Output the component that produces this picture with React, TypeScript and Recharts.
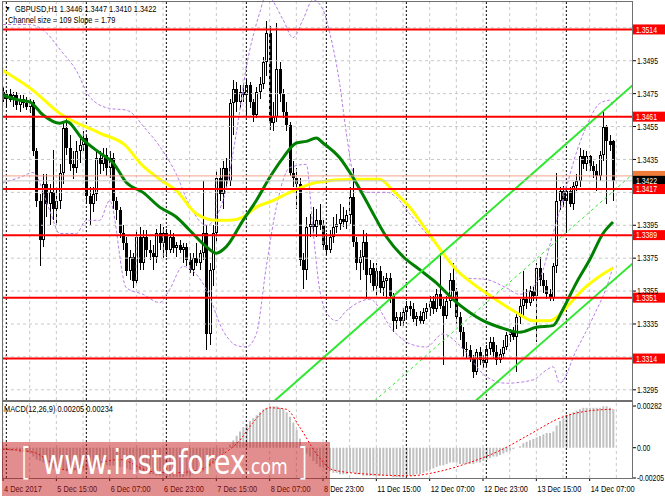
import { Bar, ComposedChart, Line, ReferenceLine, XAxis, YAxis } from 'recharts'

// GBPUSD H1, 4 Dec 23:00 .. 14 Dec 07:00 — [open, high, low, close]
const ohlc: [number, number, number, number][] = [
  [1.3476, 1.3479, 1.3470, 1.3472], [1.3472, 1.3477, 1.3466, 1.3475], [1.3475, 1.3478, 1.3470, 1.3471],
  [1.3471, 1.3476, 1.3467, 1.3474], [1.3474, 1.3476, 1.3465, 1.3468], [1.3468, 1.3474, 1.3464, 1.3472],
  [1.3472, 1.3474, 1.3466, 1.3469], [1.3469, 1.3473, 1.3465, 1.3467], [1.3467, 1.3472, 1.3463, 1.3470],
  [1.3470, 1.3471, 1.3437, 1.3440], [1.3440, 1.3442, 1.3406, 1.3410], [1.3410, 1.3414, 1.3370, 1.3386],
  [1.3386, 1.3426, 1.3382, 1.3420], [1.3420, 1.3426, 1.3400, 1.3408], [1.3408, 1.3420, 1.3395, 1.3415],
  [1.3415, 1.3441, 1.3398, 1.3405], [1.3405, 1.3418, 1.3395, 1.3410], [1.3410, 1.3432, 1.3405, 1.3427],
  [1.3427, 1.3458, 1.3420, 1.3454], [1.3454, 1.3460, 1.3438, 1.3442], [1.3442, 1.3450, 1.3428, 1.3432],
  [1.3432, 1.3440, 1.3423, 1.3430], [1.3430, 1.3446, 1.3427, 1.3440], [1.3440, 1.3450, 1.3433, 1.3444],
  [1.3444, 1.3452, 1.3440, 1.3448], [1.3448, 1.3450, 1.3408, 1.3413], [1.3413, 1.3418, 1.3395, 1.3408],
  [1.3408, 1.3418, 1.3403, 1.3414], [1.3414, 1.3440, 1.3410, 1.3436], [1.3436, 1.3440, 1.3426, 1.3432],
  [1.3432, 1.3442, 1.3428, 1.3438], [1.3438, 1.3442, 1.3425, 1.3430], [1.3430, 1.3440, 1.3424, 1.3436],
  [1.3436, 1.3439, 1.3405, 1.3410], [1.3410, 1.3412, 1.3398, 1.3404], [1.3404, 1.3406, 1.3387, 1.3390],
  [1.3390, 1.3395, 1.3380, 1.3384], [1.3384, 1.3388, 1.3364, 1.3367], [1.3367, 1.3380, 1.3362, 1.3376],
  [1.3376, 1.3378, 1.3357, 1.3361], [1.3361, 1.3392, 1.3359, 1.3388], [1.3388, 1.3394, 1.3368, 1.3372],
  [1.3372, 1.3392, 1.3368, 1.3388], [1.3388, 1.3392, 1.3376, 1.3380], [1.3380, 1.3386, 1.3374, 1.3378],
  [1.3378, 1.3383, 1.3368, 1.3376], [1.3376, 1.3393, 1.3372, 1.3390], [1.3390, 1.3396, 1.3380, 1.3384],
  [1.3384, 1.3394, 1.3375, 1.3390], [1.3390, 1.3393, 1.3376, 1.3380], [1.3380, 1.3392, 1.3378, 1.3388],
  [1.3388, 1.3390, 1.3378, 1.3381], [1.3381, 1.3385, 1.3376, 1.3383], [1.3383, 1.3386, 1.3378, 1.3380],
  [1.3380, 1.3384, 1.3372, 1.3382], [1.3382, 1.3384, 1.3370, 1.3374], [1.3374, 1.3378, 1.3366, 1.3368],
  [1.3368, 1.3378, 1.3364, 1.3375], [1.3375, 1.3384, 1.3370, 1.3372], [1.3372, 1.3380, 1.3368, 1.3378],
  [1.3378, 1.3422, 1.3374, 1.3390], [1.3390, 1.3395, 1.3319, 1.3329], [1.3329, 1.3372, 1.3322, 1.3368],
  [1.3368, 1.3395, 1.3358, 1.3390], [1.3390, 1.3428, 1.3385, 1.3424], [1.3424, 1.3430, 1.3410, 1.3414],
  [1.3414, 1.3434, 1.3405, 1.3430], [1.3430, 1.3436, 1.3418, 1.3422], [1.3422, 1.3472, 1.3419, 1.3469],
  [1.3469, 1.3483, 1.3450, 1.3478], [1.3478, 1.3482, 1.3464, 1.3470], [1.3470, 1.3480, 1.3466, 1.3476],
  [1.3476, 1.3481, 1.3470, 1.3474], [1.3474, 1.3484, 1.3462, 1.3480], [1.3480, 1.3482, 1.3466, 1.3470],
  [1.3470, 1.3472, 1.3458, 1.3462], [1.3462, 1.3479, 1.3460, 1.3476], [1.3476, 1.3485, 1.3472, 1.3481],
  [1.3481, 1.3497, 1.3478, 1.3494], [1.3494, 1.3519, 1.3486, 1.3512], [1.3512, 1.3516, 1.3453, 1.3457],
  [1.3457, 1.3470, 1.3452, 1.3461], [1.3461, 1.3518, 1.3458, 1.3490], [1.3490, 1.3494, 1.3470, 1.3475],
  [1.3475, 1.3478, 1.3460, 1.3464], [1.3464, 1.3470, 1.3452, 1.3456], [1.3456, 1.3458, 1.3425, 1.3427],
  [1.3427, 1.3434, 1.3418, 1.3424], [1.3424, 1.3430, 1.3405, 1.3420], [1.3420, 1.3424, 1.3370, 1.3374],
  [1.3374, 1.3378, 1.3356, 1.3368], [1.3368, 1.3400, 1.3362, 1.3394], [1.3394, 1.3402, 1.3388, 1.3396],
  [1.3396, 1.3406, 1.3390, 1.3394], [1.3394, 1.3405, 1.3388, 1.3398], [1.3398, 1.3408, 1.3392, 1.3395],
  [1.3395, 1.3398, 1.3380, 1.3383], [1.3383, 1.3390, 1.3377, 1.3380], [1.3380, 1.3392, 1.3378, 1.3388],
  [1.3388, 1.3400, 1.3384, 1.3394], [1.3394, 1.3402, 1.3390, 1.3396], [1.3396, 1.3408, 1.3392, 1.3399],
  [1.3399, 1.3406, 1.3394, 1.3397], [1.3397, 1.3404, 1.3393, 1.3401], [1.3401, 1.3418, 1.3396, 1.3412],
  [1.3412, 1.3430, 1.3382, 1.3385], [1.3385, 1.3388, 1.3368, 1.3372], [1.3372, 1.3380, 1.3362, 1.3376],
  [1.3376, 1.3392, 1.3368, 1.3385], [1.3385, 1.3390, 1.3350, 1.3365], [1.3365, 1.3374, 1.3360, 1.3369],
  [1.3369, 1.3372, 1.3355, 1.3358], [1.3358, 1.3372, 1.3352, 1.3367], [1.3367, 1.3370, 1.3354, 1.3357],
  [1.3357, 1.3364, 1.3352, 1.3361], [1.3361, 1.3366, 1.3350, 1.3363], [1.3363, 1.3366, 1.3348, 1.3352],
  [1.3352, 1.3354, 1.3330, 1.3337], [1.3337, 1.3342, 1.3332, 1.3339], [1.3339, 1.3342, 1.3334, 1.3337],
  [1.3337, 1.3345, 1.3334, 1.3342], [1.3342, 1.3349, 1.3338, 1.3346], [1.3346, 1.3349, 1.3340, 1.3344],
  [1.3344, 1.3348, 1.3336, 1.3338], [1.3338, 1.3342, 1.3334, 1.3340], [1.3340, 1.3343, 1.3335, 1.3337],
  [1.3337, 1.3345, 1.3335, 1.3342], [1.3342, 1.3348, 1.3338, 1.3345], [1.3345, 1.3352, 1.3340, 1.3349],
  [1.3349, 1.3352, 1.3341, 1.3344], [1.3344, 1.3356, 1.3342, 1.3353], [1.3353, 1.3378, 1.3344, 1.3346],
  [1.3346, 1.3350, 1.3310, 1.3340], [1.3340, 1.3352, 1.3338, 1.3349], [1.3349, 1.3366, 1.3345, 1.3362],
  [1.3362, 1.3372, 1.3350, 1.3355], [1.3355, 1.3357, 1.3335, 1.3339], [1.3339, 1.3342, 1.3325, 1.3330],
  [1.3330, 1.3333, 1.3315, 1.3320], [1.3320, 1.3324, 1.3314, 1.3319], [1.3319, 1.3322, 1.3312, 1.3314],
  [1.3314, 1.3316, 1.3302, 1.3306], [1.3306, 1.3320, 1.3304, 1.3318], [1.3318, 1.3321, 1.3310, 1.3313],
  [1.3313, 1.3316, 1.3308, 1.3311], [1.3311, 1.3322, 1.3309, 1.3320], [1.3320, 1.3327, 1.3316, 1.3324],
  [1.3324, 1.3327, 1.3314, 1.3318], [1.3318, 1.3322, 1.3310, 1.3313], [1.3313, 1.3320, 1.3311, 1.3317],
  [1.3317, 1.3325, 1.3314, 1.3321], [1.3321, 1.3330, 1.3319, 1.3328], [1.3328, 1.3332, 1.3324, 1.3330],
  [1.3330, 1.3333, 1.3325, 1.3327], [1.3327, 1.3342, 1.3306, 1.3339], [1.3339, 1.3350, 1.3335, 1.3346],
  [1.3346, 1.3367, 1.3340, 1.3350], [1.3350, 1.3356, 1.3344, 1.3348], [1.3348, 1.3358, 1.3346, 1.3355],
  [1.3355, 1.3358, 1.3349, 1.3352], [1.3352, 1.3372, 1.3324, 1.3369], [1.3369, 1.3376, 1.3358, 1.3362],
  [1.3362, 1.3366, 1.3354, 1.3358], [1.3358, 1.3362, 1.3350, 1.3353], [1.3353, 1.3356, 1.3349, 1.3351],
  [1.3351, 1.3372, 1.3349, 1.3370], [1.3370, 1.3427, 1.3366, 1.3410], [1.3410, 1.3418, 1.3404, 1.3416],
  [1.3416, 1.3419, 1.3406, 1.3410], [1.3410, 1.3419, 1.3390, 1.3416], [1.3416, 1.3418, 1.3406, 1.3408],
  [1.3408, 1.3421, 1.3404, 1.3419], [1.3419, 1.3426, 1.3416, 1.3422], [1.3422, 1.3442, 1.3418, 1.3437],
  [1.3437, 1.3441, 1.3429, 1.3432], [1.3432, 1.3440, 1.3428, 1.3437], [1.3437, 1.3438, 1.3428, 1.3431],
  [1.3431, 1.3434, 1.3424, 1.3428], [1.3428, 1.3432, 1.3416, 1.3425], [1.3425, 1.3440, 1.3422, 1.3438],
  [1.3438, 1.3465, 1.3434, 1.3455], [1.3455, 1.3456, 1.3408, 1.3446], [1.3446, 1.3450, 1.3440, 1.3444],
  [1.3446, 1.3447, 1.3410, 1.3422],
]

// moving averages / bands: [bar, price]
const yellowMa: [number, number][] = [
  [0, 1.3489], [9, 1.3477], [17, 1.3463], [29, 1.3451], [37, 1.3443], [41, 1.3433], [47, 1.3423],
  [52, 1.3416], [58, 1.3402], [64, 1.3398], [68, 1.3398], [72, 1.3400], [76, 1.3406], [81, 1.3410],
  [86, 1.3415], [94, 1.3421], [105, 1.3423], [113, 1.3423], [117, 1.3416], [122, 1.3406], [127, 1.3392],
  [132, 1.3378], [136, 1.3368], [140, 1.3361], [147, 1.3351], [154, 1.3342], [159, 1.3337], [164, 1.3337],
  [166, 1.3339], [169, 1.3345], [174, 1.3356], [179, 1.3364], [183, 1.3369],
]
const greenMa: [number, number][] = [
  [0, 1.3474], [5, 1.3471], [8, 1.3470], [12, 1.3462], [17, 1.3457], [19, 1.3458], [24, 1.3447],
  [29, 1.3439], [33, 1.3433], [37, 1.3421], [42, 1.3415], [47, 1.3406], [52, 1.3400], [56, 1.3392],
  [61, 1.3382], [64, 1.3378], [67, 1.3382], [72, 1.3398], [76, 1.3410], [80, 1.3424], [84, 1.3436],
  [88, 1.3445], [91, 1.3446], [94, 1.3448], [96, 1.3445], [101, 1.3436], [105, 1.3424], [110, 1.3406],
  [115, 1.3388], [120, 1.3376], [125, 1.3368], [130, 1.3360], [135, 1.3350], [140, 1.3342], [144, 1.3337],
  [149, 1.3333], [155, 1.3330], [160, 1.3333], [165, 1.3334], [168, 1.3344], [172, 1.3360], [176, 1.3374],
  [180, 1.3390], [183, 1.3397],
]
const bandUpper: [number, number][] = [
  [0, 1.3517], [8, 1.3517], [13, 1.3512], [17, 1.3502], [22, 1.3489], [26, 1.3473], [32, 1.3466],
  [37, 1.3465], [43, 1.3453], [47, 1.3443], [52, 1.3426], [56, 1.3407], [61, 1.3395], [66, 1.3410],
  [70, 1.3451], [73, 1.3491], [77, 1.3524], [79, 1.3535], [84, 1.3520], [87, 1.3509], [90, 1.3520],
  [93, 1.3532], [96, 1.3526], [98, 1.3512], [101, 1.3481], [103, 1.3451], [105, 1.3427], [109, 1.3415],
  [115, 1.3415], [118, 1.3412], [122, 1.3402], [127, 1.3390], [132, 1.3378], [139, 1.3363], [145, 1.3362],
  [151, 1.3357], [155, 1.3353], [161, 1.3363], [165, 1.3390], [169, 1.3418], [172, 1.3439], [175, 1.3455],
  [179, 1.3469], [182, 1.3471], [183, 1.3467],
]
const bandLower: [number, number][] = [
  [0, 1.3421], [5, 1.3424], [9, 1.3427], [14, 1.3404], [17, 1.3390], [22, 1.3390], [25, 1.3398],
  [29, 1.3398], [32, 1.3410], [37, 1.3357], [42, 1.3353], [47, 1.3348], [50, 1.3356], [54, 1.3370],
  [61, 1.3356], [66, 1.3331], [70, 1.3322], [73, 1.3321], [76, 1.3329], [79, 1.3370], [82, 1.3406],
  [86, 1.3430], [91, 1.3432], [93, 1.3392], [95, 1.3356], [97, 1.3342], [100, 1.3337], [103, 1.3343],
  [110, 1.3350], [117, 1.3331], [122, 1.3323], [127, 1.3321], [132, 1.3329], [137, 1.3322], [145, 1.3303],
  [151, 1.3299], [159, 1.3301], [163, 1.3307], [165, 1.3309], [167, 1.3299], [172, 1.3319], [177, 1.3339],
  [182, 1.3363], [183, 1.3370],
]

// regression channel (109 bars), extended to the right edge
const chanUpper: [number, number][] = [[75, 1.32768], [189, 1.34803]]
const chanMid: [number, number][] = [[75, 1.32234], [189, 1.34262]]
const chanLower: [number, number][] = [[75, 1.31699], [189, 1.33720]]

const levels = [1.3514, 1.3461, 1.3417, 1.3389, 1.3351, 1.3314]
const askPrice = 1.3425
const bidPrice = 1.3422

const gridPrices = [1.3295, 1.3315, 1.3335, 1.3355, 1.3375, 1.3395, 1.3415, 1.3435, 1.3455, 1.3475, 1.3495, 1.3515]
const priceTicks = [1.3295, 1.3335, 1.3355, 1.3375, 1.3395, 1.3435, 1.3455, 1.3475, 1.3495]
const gridBars = [0, 8, 16, 24, 32, 40, 48, 56, 64, 72, 80, 88, 96, 104, 112, 120, 128, 136, 144, 152, 160, 168, 176, 184]
const separatorBars = [1, 25, 49, 73, 97, 121, 145, 169]
const labelBars = [0, 16, 32, 48, 64, 80, 96, 112, 128, 144, 160, 176]
const timeLabels = [
  '4 Dec 2017', '5 Dec 15:00', '6 Dec 07:00', '6 Dec 23:00', '7 Dec 15:00', '8 Dec 07:00',
  '8 Dec 23:00', '11 Dec 15:00', '12 Dec 07:00', '12 Dec 23:00', '13 Dec 15:00', '14 Dec 07:00',
]

// MACD(12,26,9) histogram per bar and its signal line
const macdHist = [
  -0.0001, -0.0001, -0.0002, -0.0002, -0.0002, -0.0003, -0.0003, -0.0003, -0.0004, -0.0006,
  -0.0008, -0.0009, -0.0010, -0.0012, -0.0013, -0.0014, -0.0015, -0.0015, -0.0015, -0.0016,
  -0.0016, -0.0016, -0.0016, -0.0015, -0.0015, -0.0015, -0.0014, -0.0014, -0.0013, -0.0013,
  -0.0013, -0.0012, -0.0012, -0.0012, -0.0012, -0.0013, -0.0013, -0.0014, -0.0015, -0.0015,
  -0.0016, -0.0016, -0.0017, -0.0017, -0.0018, -0.0018, -0.0019, -0.0019, -0.0019, -0.0020,
  -0.0020, -0.0020, -0.0020, -0.0020, -0.0020, -0.0019, -0.0019, -0.0018, -0.0018, -0.0017,
  -0.0016, -0.0015, -0.0013, -0.0011, -0.0009, -0.0006, -0.0004, -0.0001, 0.0002, 0.0005,
  0.0008, 0.0011, 0.0014, 0.0016, 0.0018, 0.0020, 0.0022, 0.0024, 0.0026, 0.0027,
  0.0028, 0.0028, 0.0028, 0.0027, 0.0026, 0.0024, 0.0021, 0.0017, 0.0012, 0.0006,
  0.0000, -0.0004, -0.0006, -0.0009, -0.0011, -0.0013, -0.0014, -0.0015, -0.0016, -0.0017,
  -0.0017, -0.0018, -0.0018, -0.0018, -0.0017, -0.0017, -0.0018, -0.0018, -0.0019, -0.0019,
  -0.0019, -0.0019, -0.0019, -0.0019, -0.0019, -0.0019, -0.0019, -0.0020, -0.0020, -0.0020,
  -0.0020, -0.0019, -0.0019, -0.0019, -0.0018, -0.0018, -0.0017, -0.0016, -0.0015, -0.0014,
  -0.0013, -0.0012, -0.0012, -0.0011, -0.0010, -0.0010, -0.0010, -0.0011, -0.0011, -0.0011,
  -0.0011, -0.0011, -0.0010, -0.0010, -0.0009, -0.0008, -0.0007, -0.0006, -0.0006, -0.0005,
  -0.0004, -0.0003, -0.0002, -0.0001, 0.0000, 0.0001, 0.0003, 0.0004, 0.0005, 0.0006,
  0.0007, 0.0008, 0.0009, 0.0010, 0.0010, 0.0011, 0.0015, 0.0018, 0.0020, 0.0022,
  0.0023, 0.0024, 0.0025, 0.0026, 0.0027, 0.0027, 0.0027, 0.0027, 0.0027, 0.0027,
  0.0028, 0.0028, 0.0027, 0.0026,
]
const macdSignal: [number, number][] = [
  [0, -0.0001], [9, -0.0003], [19, -0.0015], [29, -0.0010], [35, -0.0008], [44, -0.0016],
  [51, -0.0017], [59, -0.0015], [65, -0.0006], [71, 0.0005], [75, 0.0017], [80, 0.0027],
  [85, 0.0026], [89, 0.0014], [94, -0.0004], [99, -0.0015], [110, -0.0018], [122, -0.0019],
  [131, -0.0016], [140, -0.0010], [149, -0.0002], [158, 0.0009], [167, 0.0020], [176, 0.0025],
  [183, 0.0026],
]
const macdTicks = [0.00282, 0, -0.00205]
const macdTickLabels = ['0.00282', '0.00', '-0.00205']

const P_DOMAIN: [number, number] = [1.32888, 1.35319]
const M_DOMAIN: [number, number] = [-0.00205, 0.00316]
const X_DOMAIN: [number, number] = [-0.3, 188.7]

const FONT = '"Liberation Sans", Arial, sans-serif'
const SQUEEZE = 'scale(0.78,1)'

const rows = ohlc.map(([o, h, l, c], i) => ({ i, o, h, l, c, range: [l, h], macd: macdHist[i] }))
const pts = (arr: [number, number][]) => arr.map(([i, v]) => ({ i, v }))

const Candle = (props: any) => {
  const { x, y, width, height, payload } = props
  if (!payload || x == null) return null
  const { o, h, l, c } = payload
  const top = Math.min(y, y + height)
  const span = Math.abs(height)
  const py = (v: number) => (h === l ? top : top + ((h - v) / (h - l)) * span)
  const left = Math.round(x + width / 2) - 1
  const bTop = Math.round(py(Math.max(o, c)))
  const bBot = Math.max(Math.round(py(Math.min(o, c))), bTop + 1)
  const bull = c >= o
  return (
    <g>
      <line x1={left + 1.5} x2={left + 1.5} y1={Math.round(top)} y2={Math.round(top + span)} stroke="#000" strokeWidth={1} />
      {bull ? (
        <rect x={left + 0.5} y={bTop + 0.5} width={2} height={Math.max(bBot - bTop - 1, 0)} fill="#fff" stroke="#000" strokeWidth={1} />
      ) : (
        <rect x={left} y={bTop} width={3} height={bBot - bTop} fill="#000" />
      )}
    </g>
  )
}

const PriceTick = ({ x, y, payload }: any) => (
  <text transform={`translate(${x},${y}) ${SQUEEZE}`} dy="0.35em" fontSize={8.8} fontFamily={FONT} fill="#000">
    {Number(payload.value).toFixed(4)}
  </text>
)

const MacdTick = ({ x, y, payload, index }: any) => (
  <text transform={`translate(${x},${y}) ${SQUEEZE}`} dy="0.35em" fontSize={8.8} fontFamily={FONT} fill="#000">
    {macdTickLabels[index] ?? String(payload.value)}
  </text>
)

const TimeTick = ({ x, y, payload }: any) => (
  <text transform={`translate(${x + 1},${y + 9}) ${SQUEEZE}`} fontSize={9.5} fontFamily={FONT} fill="#000">
    {timeLabels[labelBars.indexOf(payload.value)]}
  </text>
)

// coloured price box in the right margin; text omitted when the box is covered by another one
const PriceTag = ({ viewBox, value, bg, fg, noText }: any) => {
  if (!viewBox) return null
  const x = viewBox.x + viewBox.width + 1
  const y = viewBox.y
  return (
    <g>
      <rect x={x} y={y - 5} width={32} height={10} fill={bg} />
      {!noText && (
        <text transform={`translate(${x + 3},${y}) ${SQUEEZE}`} dy="0.35em" fontSize={8.8} fontFamily={FONT} fill={fg}>
          {value.toFixed(4)}
        </text>
      )}
    </g>
  )
}

export default function App() {
  return (
    <div style={{ position: 'absolute', left: 0, top: 0, width: 665, height: 499, background: '#fff', overflow: 'hidden' }}>
      <div style={{ position: 'absolute', left: 0, top: 0 }}>
        <ComposedChart width={665} height={400} data={rows} margin={{ top: 0, right: 0, bottom: 0, left: 2 }}>
          <XAxis dataKey="i" type="number" domain={X_DOMAIN} allowDataOverflow hide />
          <YAxis
            orientation="right" type="number" domain={P_DOMAIN} allowDataOverflow width={33}
            ticks={priceTicks} interval={0} tick={<PriceTick />} tickSize={4} tickMargin={1}
            tickLine={{ stroke: '#000' }} axisLine={false}
          />
          {gridPrices.map((p) => (
            <ReferenceLine key={`gp${p}`} y={p} stroke="#c8c8c8" strokeDasharray="3 3" />
          ))}
          {gridBars.map((b) => (
            <ReferenceLine key={`gb${b}`} x={b} stroke="#c8c8c8" strokeDasharray="3 3" />
          ))}
          {separatorBars.map((b) => (
            <ReferenceLine key={`sb${b}`} x={b} stroke="#000" strokeDasharray="2 2" />
          ))}
          <Bar dataKey="range" barSize={3} shape={(p: any) => <Candle {...p} />} isAnimationActive={false} />
          <Line data={pts(bandUpper)} dataKey="v" type="monotone" stroke="#b77ee6" strokeWidth={1} strokeDasharray="3 2" dot={false} isAnimationActive={false} />
          <Line data={pts(bandLower)} dataKey="v" type="monotone" stroke="#b77ee6" strokeWidth={1} strokeDasharray="3 2" dot={false} isAnimationActive={false} />
          <Line data={pts(yellowMa)} dataKey="v" type="monotone" stroke="#ffff00" strokeWidth={3} dot={false} isAnimationActive={false} />
          <Line data={pts(greenMa)} dataKey="v" type="monotone" stroke="#008000" strokeWidth={3} dot={false} isAnimationActive={false} />
          <Line data={pts(chanUpper)} dataKey="v" type="linear" stroke="#2ee82e" strokeWidth={2} dot={false} isAnimationActive={false} />
          <Line data={pts(chanLower)} dataKey="v" type="linear" stroke="#2ee82e" strokeWidth={2} dot={false} isAnimationActive={false} />
          <Line data={pts(chanMid)} dataKey="v" type="linear" stroke="#2ee82e" strokeWidth={1} strokeDasharray="3 3" dot={false} isAnimationActive={false} />
          <ReferenceLine y={askPrice} stroke="#f5a48a" strokeWidth={1} label={<PriceTag value={askPrice} bg="#f07c3c" fg="#fff" noText />} />
          <ReferenceLine y={bidPrice} stroke="#c8c8c8" strokeWidth={1} label={<PriceTag value={bidPrice} bg="#000" fg="#fff" />} />
          {levels.map((lv) => (
            <ReferenceLine key={`lv${lv}`} y={lv} stroke="#ff0000" strokeWidth={2} label={<PriceTag value={lv} bg="#ff0000" fg="#fff" />} />
          ))}
        </ComposedChart>
      </div>

      <div style={{ position: 'absolute', left: 0, top: 401 }}>
        <ComposedChart width={665} height={98} data={rows} margin={{ top: 0, right: 0, bottom: 0, left: 2 }}>
          <XAxis
            dataKey="i" type="number" domain={X_DOMAIN} allowDataOverflow height={21}
            ticks={labelBars} interval={0} tick={<TimeTick />} tickSize={3} tickMargin={2}
            tickLine={{ stroke: '#000' }} axisLine={false}
          />
          <YAxis
            orientation="right" type="number" domain={M_DOMAIN} allowDataOverflow width={33}
            ticks={macdTicks} interval={0} tick={<MacdTick />} tickSize={4} tickMargin={1}
            tickLine={{ stroke: '#000' }} axisLine={false}
          />
          {gridBars.map((b) => (
            <ReferenceLine key={`mg${b}`} x={b} stroke="#c8c8c8" strokeDasharray="3 3" />
          ))}
          {separatorBars.map((b) => (
            <ReferenceLine key={`ms${b}`} x={b} stroke="#000" strokeDasharray="2 2" />
          ))}
          <Bar dataKey="macd" barSize={2} fill="#c0c0c0" isAnimationActive={false} />
          <Line data={pts(macdSignal)} dataKey="v" type="monotone" stroke="#ff0000" strokeWidth={1} strokeDasharray="2 2" dot={false} isAnimationActive={false} />
        </ComposedChart>
      </div>

      {/* panel frames */}
      <div style={{ position: 'absolute', left: 2, top: 1, width: 631, height: 400, boxSizing: 'border-box', border: '1px solid #707070' }} />
      <div style={{ position: 'absolute', left: 2, top: 401, width: 631, height: 78, boxSizing: 'border-box', border: '1px solid #707070' }} />

      <svg width={665} height={499} style={{ position: 'absolute', left: 0, top: 0, pointerEvents: 'none' }}>
        <text transform={`translate(5,11) ${SQUEEZE}`} fontSize={7} fontFamily={FONT} fill="#000">▼</text>
        <text transform={`translate(15,11.5) ${SQUEEZE}`} fontSize={9.5} fontFamily={FONT} fill="#000">
          GBPUSD,H1  1.3446 1.3447 1.3410 1.3422
        </text>
        <text transform={`translate(8,22.5) ${SQUEEZE}`} fontSize={9.5} fontFamily={FONT} fill="#000">
          Channel size = 109 Slope = 1.79
        </text>
        <text transform={`translate(4,412) ${SQUEEZE}`} fontSize={9.5} fontFamily={FONT} fill="#000">
          MACD(12,26,9) 0.00205 0.00234
        </text>

        {/* watermark */}
        <rect x={2} y={442} width={328} height={54} fill="rgba(200,30,30,0.5)" />
        <text transform="translate(20,474) scale(0.78,1)" fontFamily='"DejaVu Sans", sans-serif' fill="#fff">
          <tspan fontSize={38} fontWeight={300}>[</tspan>
          <tspan fontSize={34} dx={14}>www.instaforex</tspan>
          <tspan fontSize={22}>.com</tspan>
          <tspan fontSize={38} fontWeight={300} dx={12}>]</tspan>
        </text>
      </svg>
    </div>
  )
}
